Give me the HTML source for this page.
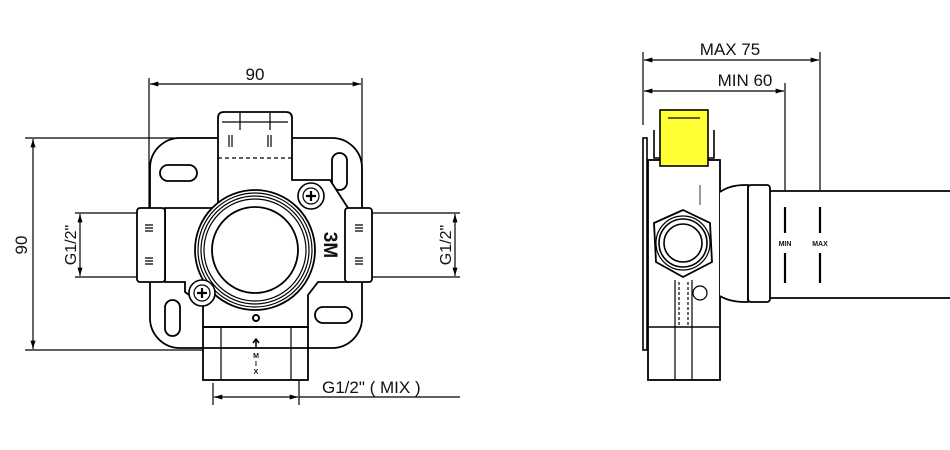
<!DOCTYPE html>
<html><head><meta charset="utf-8"><style>
html,body{margin:0;padding:0;background:#fff;width:950px;height:450px;overflow:hidden}
svg{display:block}
text{font-family:"Liberation Sans",sans-serif;fill:#111}
</style></head><body>
<svg width="950" height="450" viewBox="0 0 950 450" xmlns="http://www.w3.org/2000/svg">
<defs>
<marker id="a" viewBox="0 0 10 6" refX="10" refY="3" markerWidth="14" markerHeight="5" orient="auto-start-reverse" markerUnits="userSpaceOnUse"><path d="M0,0 L10,3 L0,6 z" fill="#000"/></marker>
</defs>
<g stroke="#000" fill="none" stroke-width="1.2">
<line x1="149" y1="78" x2="149" y2="215"/>
<line x1="362" y1="78" x2="362" y2="215"/>
<line x1="150" y1="84" x2="361" y2="84" marker-start="url(#a)" marker-end="url(#a)"/>
<line x1="25" y1="138" x2="218" y2="138"/>
<line x1="25" y1="350" x2="203" y2="350"/>
<line x1="33" y1="139" x2="33" y2="349" marker-start="url(#a)" marker-end="url(#a)"/>
<line x1="75" y1="213" x2="137" y2="213"/>
<line x1="75" y1="277" x2="137" y2="277"/>
<line x1="80" y1="214" x2="80" y2="276" marker-start="url(#a)" marker-end="url(#a)"/>
<line x1="372" y1="213" x2="460" y2="213"/>
<line x1="372" y1="277" x2="460" y2="277"/>
<line x1="455" y1="214" x2="455" y2="276" marker-start="url(#a)" marker-end="url(#a)"/>
<line x1="213" y1="383" x2="213" y2="405"/>
<line x1="299" y1="380" x2="299" y2="405"/>
<line x1="214" y1="397" x2="298" y2="397" marker-start="url(#a)" marker-end="url(#a)"/>
<line x1="299" y1="397" x2="460" y2="397"/>
<rect x="150" y="138" width="212" height="210" rx="30" stroke-width="1.8"/>
<rect x="160" y="165" width="37" height="16" rx="8" stroke-width="1.8"/>
<rect x="332" y="153" width="15" height="37" rx="7.5" stroke-width="1.8"/>
<rect x="165" y="300" width="15" height="36" rx="7.5" stroke-width="1.8"/>
<rect x="315" y="307" width="37" height="16" rx="8" stroke-width="1.8"/>
<path d="M218,170 L218,118 Q218,112 224,112 L286,112 Q292,112 292,118 L292,180 L330,180 L348,208 L348,282 L318,282 L308,295 L308,327 L203,327 L203,305 L185,292 L185,282 L165,282 L165,208 L218,208 Z" fill="#fff" stroke-width="1.8"/>
<line x1="222" y1="122" x2="288" y2="122"/>
<line x1="240" y1="113" x2="240" y2="130"/><line x1="270" y1="113" x2="270" y2="130"/>
<line x1="218" y1="158" x2="292" y2="158" stroke-dasharray="4 3"/>
<path d="M229,135v12M232,135v12M268,135v12M271,135v12"/>
<rect x="137" y="208" width="28" height="74" rx="3" fill="#fff" stroke-width="1.8"/>
<rect x="345" y="208" width="27" height="74" rx="3" fill="#fff" stroke-width="1.8"/>
<path d="M145,225h8M145,228h8M145,231h8M145,258h8M145,261h8M145,264h8M355,225h8M355,228h8M355,231h8M355,258h8M355,261h8M355,264h8"/>
<circle cx="255" cy="250" r="60" fill="#fff" stroke-width="1.8"/>
<circle cx="255" cy="250" r="57"/><circle cx="255" cy="250" r="54"/><circle cx="255" cy="250" r="51"/>
<circle cx="255" cy="250" r="43" stroke-width="1.8"/>
<circle cx="311" cy="196" r="13" fill="#fff" stroke-width="1.6"/><circle cx="311" cy="196" r="8"/>
<path d="M306,196h10M311,191v10" stroke-width="2.2"/>
<circle cx="202" cy="293" r="13" fill="#fff" stroke-width="1.6"/><circle cx="202" cy="293" r="8"/>
<path d="M197,293h10M202,288v10" stroke-width="2.2"/>
<circle cx="256" cy="318" r="3" stroke-width="2"/>
<rect x="203" y="327" width="105" height="53" stroke-width="1.8"/>
<line x1="221" y1="327" x2="221" y2="380"/><line x1="291" y1="327" x2="291" y2="380"/>
<path d="M256,348v-8M253,343l3,-4l3,4" stroke-width="1.5"/>
<line x1="643" y1="52" x2="643" y2="125"/>
<line x1="820" y1="52" x2="820" y2="190"/>
<line x1="785" y1="83" x2="785" y2="190"/>
<line x1="644" y1="60" x2="819" y2="60" marker-start="url(#a)" marker-end="url(#a)"/>
<line x1="644" y1="91" x2="784" y2="91" marker-start="url(#a)" marker-end="url(#a)"/>
<rect x="643" y="138" width="4" height="212" stroke-width="1.6"/>
<rect x="648" y="160" width="72" height="220" stroke-width="1.8" fill="#fff"/>
<rect x="660" y="110" width="48" height="56" fill="#ffff33" stroke-width="1.6"/>
<path d="M654,130v28h6M714,130v28h-6" stroke-width="1.6"/>
<line x1="668" y1="118" x2="700" y2="118"/>
<path d="M720,192 Q730,185 745,185 L748,185 L748,302 L745,302 Q730,302 720,296" fill="#fff" stroke-width="1.8"/>
<rect x="748" y="185" width="22" height="117" rx="3" fill="#fff" stroke-width="1.8"/>
<path d="M770,191 L950,191 M770,298 L950,298" stroke-width="1.8"/>
<line x1="785" y1="207" x2="785" y2="233" stroke-width="2.2"/>
<line x1="785" y1="253" x2="785" y2="283" stroke-width="2.2"/>
<line x1="820" y1="207" x2="820" y2="233" stroke-width="2.2"/>
<line x1="820" y1="253" x2="820" y2="283" stroke-width="2.2"/>
<path d="M683,210 L710,223 L712,262 L683,277 L656,262 L654,223 Z" fill="#fff" stroke-width="1.8"/>
<circle cx="683" cy="243" r="27"/><circle cx="683" cy="243" r="24" stroke-width="1.6"/>
<circle cx="683" cy="243" r="19" stroke-width="1.6"/>
<line x1="648" y1="327" x2="720" y2="327" stroke-width="1.6"/>
<line x1="675" y1="280" x2="675" y2="380"/><line x1="692" y1="280" x2="692" y2="380"/>
<line x1="679" y1="282" x2="679" y2="325" stroke-dasharray="3 2"/><line x1="688" y1="282" x2="688" y2="325" stroke-dasharray="3 2"/>
<circle cx="700" cy="293" r="7" fill="#fff"/>
<line x1="700" y1="185" x2="700" y2="205" stroke-width="0.8"/>
</g>
<text x="255" y="80" font-size="17" text-anchor="middle">90</text>
<text transform="translate(27,245) rotate(-90)" font-size="17" text-anchor="middle">90</text>
<text transform="translate(76,245) rotate(-90)" font-size="16" text-anchor="middle">G1/2"</text>
<text transform="translate(451,245) rotate(-90)" font-size="16" text-anchor="middle">G1/2"</text>
<text transform="translate(324,245) rotate(90)" font-size="19" font-weight="bold" text-anchor="middle">3M</text>
<text x="322" y="393" font-size="17">G1/2" ( MIX )</text>
<text x="256" y="358" font-size="7" font-weight="bold" text-anchor="middle">M</text>
<text x="256" y="366" font-size="7" font-weight="bold" text-anchor="middle">I</text>
<text x="256" y="374" font-size="7" font-weight="bold" text-anchor="middle">X</text>
<text x="730" y="55" font-size="17" text-anchor="middle">MAX  75</text>
<text x="745" y="86" font-size="17" text-anchor="middle">MIN  60</text>
<text x="785" y="246" font-size="7" font-weight="bold" text-anchor="middle">MIN</text>
<text x="820" y="246" font-size="7" font-weight="bold" text-anchor="middle">MAX</text>
</svg>
</body></html>
